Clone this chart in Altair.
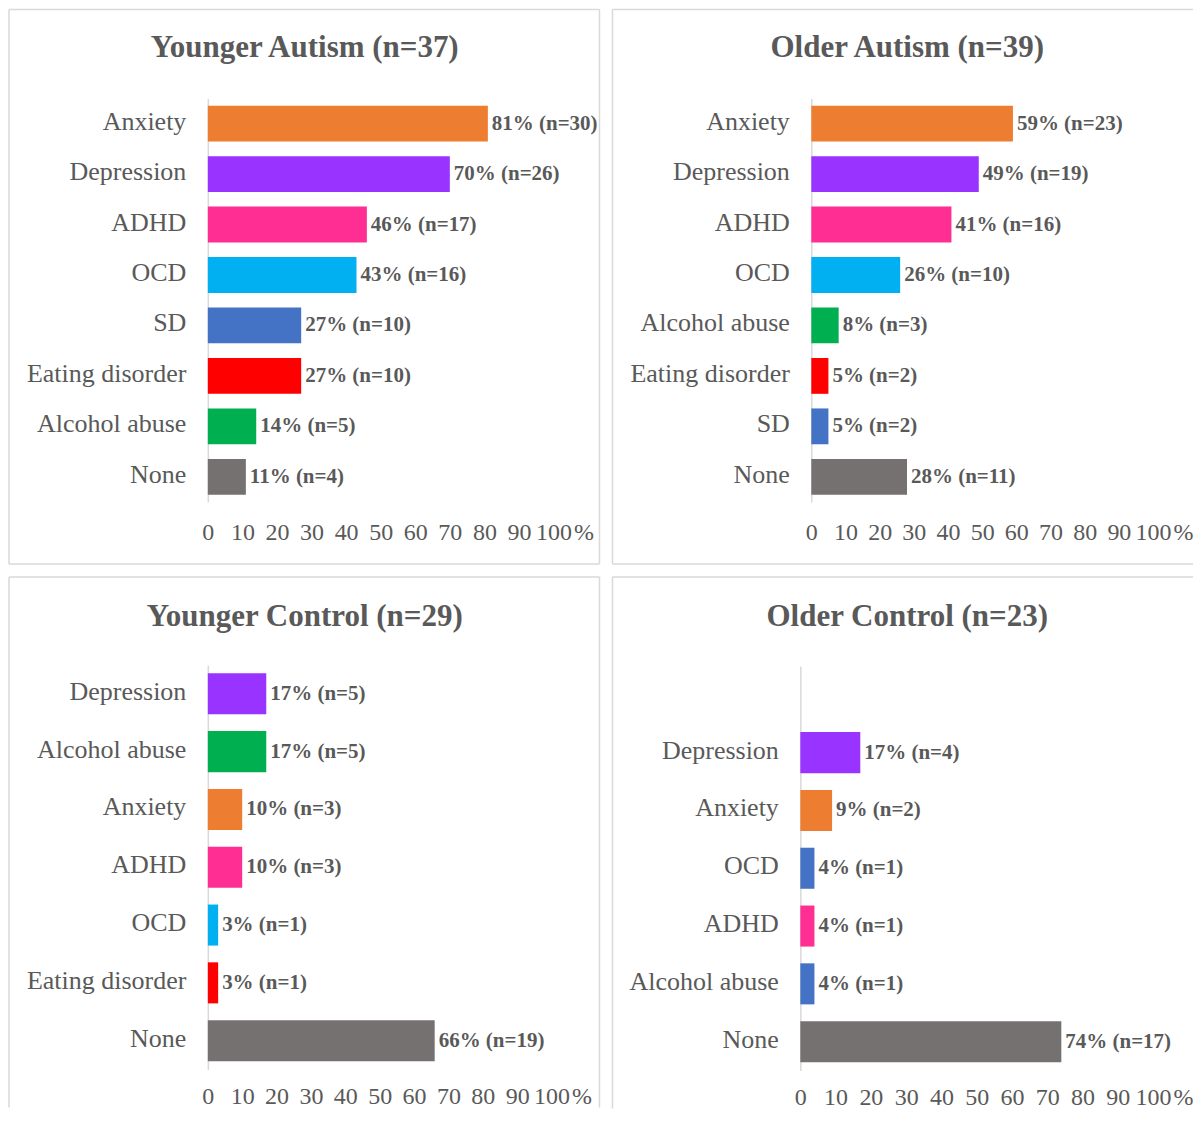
import altair as alt
import pandas as pd

# ---------------- data ----------------
ya_title = "Younger Autism (n=37)"
ya_cats = ["Anxiety", "Depression", "ADHD", "OCD", "SD", "Eating disorder", "Alcohol abuse", "None"]
ya_pct = [81, 70, 46, 43, 27, 27, 14, 11]
ya_n = [30, 26, 17, 16, 10, 10, 5, 4]
ya_col = ["#ED7D31", "#9933FF", "#FF2E93", "#00B0F0", "#4472C4", "#FF0000", "#00B050", "#767171"]

oa_title = "Older Autism (n=39)"
oa_cats = ["Anxiety", "Depression", "ADHD", "OCD", "Alcohol abuse", "Eating disorder", "SD", "None"]
oa_pct = [59, 49, 41, 26, 8, 5, 5, 28]
oa_n = [23, 19, 16, 10, 3, 2, 2, 11]
oa_col = ["#ED7D31", "#9933FF", "#FF2E93", "#00B0F0", "#00B050", "#FF0000", "#4472C4", "#767171"]

yc_title = "Younger Control (n=29)"
yc_cats = ["Depression", "Alcohol abuse", "Anxiety", "ADHD", "OCD", "Eating disorder", "None"]
yc_pct = [17, 17, 10, 10, 3, 3, 66]
yc_n = [5, 5, 3, 3, 1, 1, 19]
yc_col = ["#9933FF", "#00B050", "#ED7D31", "#FF2E93", "#00B0F0", "#FF0000", "#767171"]

oc_title = "Older Control (n=23)"
oc_cats = ["Depression", "Anxiety", "OCD", "ADHD", "Alcohol abuse", "None"]
oc_domain = [" "] + oc_cats  # first row left empty in the original
oc_pct = [17, 9, 4, 4, 4, 74]
oc_n = [4, 2, 1, 1, 1, 17]
oc_col = ["#9933FF", "#ED7D31", "#4472C4", "#FF2E93", "#4472C4", "#767171"]

x_ticks = [0, 10, 20, 30, 40, 50, 60, 70, 80, 90, 100]

FONT = "Liberation Serif"
TXT = "#595959"
LINE = "#d9d9d9"


def panel(title, cats, pct, n, colors, W, H, frame, title_pos, domain=None,
          xlab_pad=18, pct_label="%", bottom_edge=True, right_edge=True):
    df = pd.DataFrame({"cat": cats, "pct": pct, "n": n, "color": colors})
    df["label"] = [f"{p}% (n={k})" for p, k in zip(pct, n)]
    dom = domain if domain is not None else cats

    x = alt.X(
        "pct:Q",
        scale=alt.Scale(domain=[0, 100], nice=False),
        axis=alt.Axis(
            values=x_ticks, title=pct_label, titleX=W + 30, titleY=xlab_pad,
            titleBaseline="top", titleAlign="center", titleAngle=0,
            titleFont=FONT, titleFontSize=24, titleFontWeight="normal", titleColor=TXT,
            labelFont=FONT, labelFontSize=24, labelColor=TXT, labelPadding=xlab_pad,
            labelOverlap=False, labelFlush=False, domain=False, ticks=False,
            tickSize=0, grid=False,
        ),
    )
    y = alt.Y(
        "cat:N",
        scale=alt.Scale(domain=dom, paddingInner=0.29, paddingOuter=0.145),
        axis=alt.Axis(
            title=None, labelFont=FONT, labelFontSize=26, labelColor=TXT,
            labelPadding=22, labelOffset=-2, ticks=False, domain=True,
            domainColor=LINE, domainWidth=1.5, grid=False, labelLimit=300,
        ),
    )
    bars = alt.Chart(df).mark_bar().encode(
        x=x, y=y, color=alt.Color("color:N", scale=None)
    )
    texts = alt.Chart(df).mark_text(
        align="left", baseline="middle", dx=4, font=FONT, fontSize=21,
        fontWeight="bold", color=TXT,
    ).encode(x=x, y=y, text="label:N")

    deco = pd.DataFrame({"t": [title]})
    tmark = alt.Chart(deco).mark_text(
        align="center", baseline="middle", font=FONT, fontSize=31,
        fontWeight="bold", color=TXT,
    ).encode(x=alt.value(title_pos[0]), y=alt.value(title_pos[1]), text="t:N")

    fx1, fy1, fx2, fy2 = frame
    base = alt.Chart(deco).mark_rule(color=LINE, strokeWidth=1.5)
    rules = [
        base.encode(x=alt.value(fx1), x2=alt.value(fx2), y=alt.value(fy1)),
        base.encode(x=alt.value(fx1), y=alt.value(fy1), y2=alt.value(fy2)),
    ]
    if right_edge:
        rules.append(base.encode(x=alt.value(fx2), y=alt.value(fy1), y2=alt.value(fy2)))
    if bottom_edge:
        rules.append(base.encode(x=alt.value(fx1), x2=alt.value(fx2), y=alt.value(fy2)))

    return alt.layer(*rules, bars, texts, tmark).properties(width=W, height=H)


tl = panel(ya_title, ya_cats, ya_pct, ya_n, ya_col, 346, 404,
           (-199, -89, 392, 466), (97, -50))
tr = panel(oa_title, oa_cats, oa_pct, oa_n, oa_col, 342, 404,
           (-199, -89, 382, 466), (96, -50), right_edge=False)
bl = panel(yc_title, yc_cats, yc_pct, yc_n, yc_col, 344, 405,
           (-199, -88, 392, 443), (97, -48), xlab_pad=15, bottom_edge=False)
br = panel(oc_title, oc_cats, oc_pct, oc_n, oc_col, 353, 405,
           (-188, -89, 393, 443), (107, -49), domain=oc_domain, xlab_pad=15,
           pct_label=" %", bottom_edge=False, right_edge=False)

chart = (
    alt.concat(tl, tr, bl, br, columns=2, spacing=11, align="none")
    .properties(padding=0, background="white")
    .configure_view(stroke=None)
)

chart.save("out.html", embed_options={"renderer": "svg", "actions": False})
